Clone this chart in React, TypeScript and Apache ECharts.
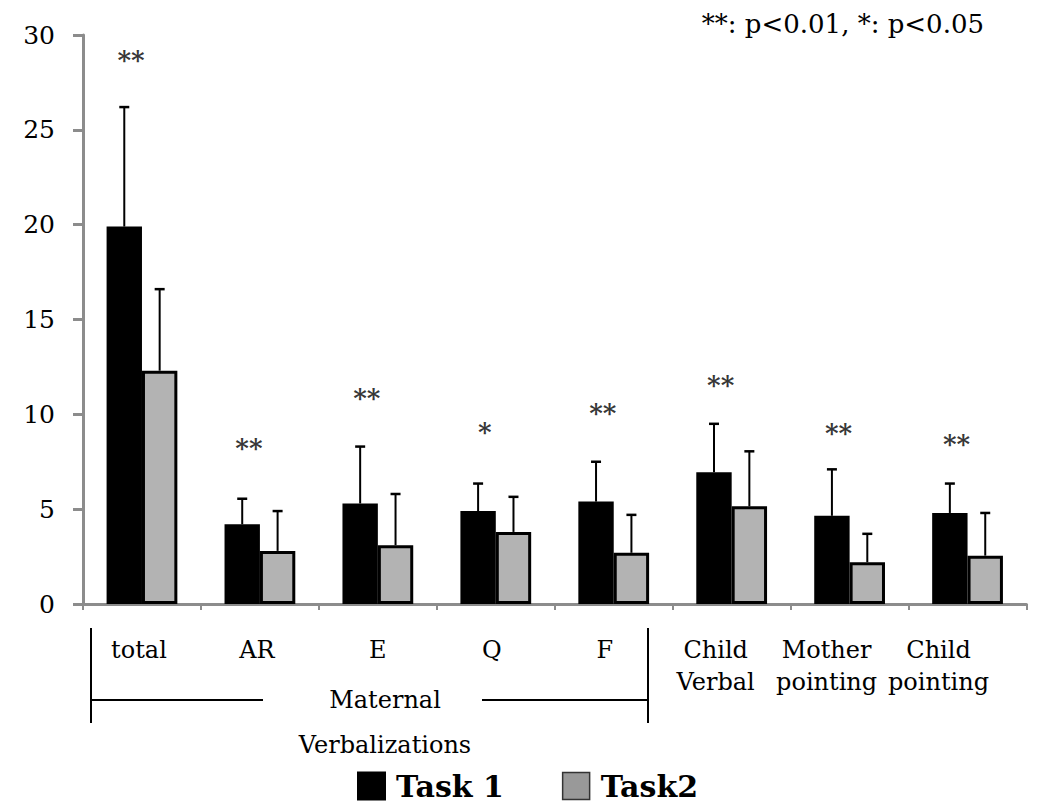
import React, { useEffect, useRef } from "react";
import * as echarts from "echarts";

const categories = ["total", "AR", "E", "Q", "F", "Child\nVerbal", "Mother\npointing", "Child\npointing"];
const task1Mean = [19.9, 4.2, 5.3, 4.9, 5.4, 6.95, 4.65, 4.8];
const task1Upper = [26.2, 5.55, 8.3, 6.35, 7.5, 9.5, 7.1, 6.35];
const task2Mean = [12.3, 2.8, 3.1, 3.8, 2.7, 5.15, 2.2, 2.55];
const task2Upper = [16.6, 4.9, 5.8, 5.65, 4.7, 8.05, 3.7, 4.8];
const sigLabels = ["**", "**", "**", "*", "**", "**", "**", "**"];
const sigY = [28.7, 8.25, 10.85, 9.05, 10.05, 11.55, 9.0, 8.45];
const yTicks = [0, 5, 10, 15, 20, 25, 30];
const seriesNames = ["Task 1", "Task2"];
const noteText = "**: p<0.01, *: p<0.05";
const groupLabel = ["Maternal", "Verbalizations"];

const FONT = "DejaVu Serif";

export default function App() {
  const ref = useRef<HTMLDivElement>(null);
  useEffect(() => {
    document.body.style.margin = "0";
    const chart = echarts.init(ref.current!, null, { renderer: "svg" });
    // visual left shifts of the category labels (px), layout only
    const labelShift = [3, 3, 0, 4, 9, 16, 23, 29];
    const xData = categories.map((c, i) => ({
      value: c,
      textStyle: { padding: [0, labelShift[i] * 2, 0, 0] },
    }));
    const errData = (means: number[], ups: number[], side: number) =>
      means.map((m, i) => [i, m, ups[i], side]);
    const renderErr = (params: any, api: any) => {
      const ci = api.value(0);
      const mean = api.value(1);
      const up = api.value(2);
      const side = api.value(3);
      const base = api.coord([ci, mean]);
      const top = api.coord([ci, up]);
      const band = api.size([1, 0])[0];
      const bw = band * 0.3;
      const x = base[0] + (side * bw) / 2;
      return {
        type: "group",
        children: [
          { type: "line", shape: { x1: x, y1: base[1], x2: x, y2: top[1] }, style: { stroke: "#000", lineWidth: 2 } },
          { type: "line", shape: { x1: x - 5, y1: top[1], x2: x + 5, y2: top[1] }, style: { stroke: "#000", lineWidth: 2.5 } },
        ],
      };
    };
    chart.setOption({
      animation: false,
      textStyle: { fontFamily: FONT },
      grid: { left: 83, right: 22, top: 35, bottom: 206, containLabel: false },
      legend: {
        bottom: 4,
        left: 352,
        itemWidth: 27,
        itemHeight: 27,
        itemGap: 58,
        textStyle: { fontFamily: FONT, fontSize: 30, fontWeight: "bold", color: "#000", padding: [0, 0, 0, 6] },
        data: [
          { name: seriesNames[0], icon: "rect", itemStyle: { color: "#000" } },
          { name: seriesNames[1], icon: "rect", itemStyle: { color: "#999", borderColor: "#333", borderWidth: 1.5 } },
        ],
      },
      xAxis: {
        type: "category",
        data: xData,
        axisLine: { lineStyle: { color: "#8c8c8c", width: 3 } },
        axisTick: { show: true, length: 6, interval: 0, lineStyle: { color: "#8c8c8c", width: 2 } },
        axisLabel: { interval: 0, fontFamily: FONT, fontSize: 24, lineHeight: 32, color: "#000", margin: 30 },
      },
      yAxis: {
        type: "value",
        min: yTicks[0],
        max: yTicks[yTicks.length - 1],
        interval: 5,
        axisLine: { show: true, lineStyle: { color: "#8c8c8c", width: 3 } },
        axisTick: { show: true, length: 10, lineStyle: { color: "#8c8c8c", width: 3 } },
        splitLine: { show: false },
        axisLabel: { fontFamily: FONT, fontSize: 25, color: "#000", margin: 28 },
      },
      graphic: [
        { type: "text", right: 66, top: 11, style: { text: noteText, fontFamily: FONT, fontSize: 26, fill: "#000" } },
        { type: "line", shape: { x1: 91, y1: 628, x2: 91, y2: 723 }, style: { stroke: "#000", lineWidth: 2 } },
        { type: "line", shape: { x1: 648, y1: 628, x2: 648, y2: 723 }, style: { stroke: "#000", lineWidth: 2 } },
        { type: "line", shape: { x1: 91, y1: 700, x2: 263, y2: 700 }, style: { stroke: "#000", lineWidth: 2 } },
        { type: "line", shape: { x1: 482, y1: 700, x2: 648, y2: 700 }, style: { stroke: "#000", lineWidth: 2 } },
        { type: "text", x: 385, y: 700, style: { text: groupLabel[0], fontFamily: FONT, fontSize: 24, fill: "#000", textAlign: "center", textVerticalAlign: "middle" } },
        { type: "text", x: 385, y: 745, style: { text: groupLabel[1], fontFamily: FONT, fontSize: 24, fill: "#000", textAlign: "center", textVerticalAlign: "middle" } },
      ],
      series: [
        {
          name: seriesNames[0],
          type: "bar",
          data: task1Mean,
          barWidth: "30%",
          barGap: "0%",
          itemStyle: { color: "#000", borderColor: "#000", borderWidth: 2 },
        },
        {
          name: seriesNames[1],
          type: "bar",
          data: task2Mean,
          barWidth: "30%",
          barGap: "0%",
          itemStyle: { color: "#b3b3b3", borderColor: "#000", borderWidth: 3 },
        },
        {
          type: "custom",
          renderItem: renderErr,
          data: errData(task1Mean, task1Upper, -1),
          encode: { x: 0, y: [1, 2] },
          z: 5,
        },
        {
          type: "custom",
          renderItem: renderErr,
          data: errData(task2Mean, task2Upper, 1),
          encode: { x: 0, y: [1, 2] },
          z: 5,
        },
        {
          type: "scatter",
          symbolSize: 0,
          data: sigY.map((y, i) => [i, y]),
          label: {
            show: true,
            position: "inside",
            offset: [-11, 0],
            formatter: (p: any) => sigLabels[p.dataIndex],
            fontFamily: FONT,
            fontSize: 26,
            fontWeight: "bold",
            color: "#000",
          },
          z: 6,
        },
      ],
    });
    return () => chart.dispose();
  }, []);
  return <div ref={ref} style={{ width: 1050, height: 810 }} />;
}
